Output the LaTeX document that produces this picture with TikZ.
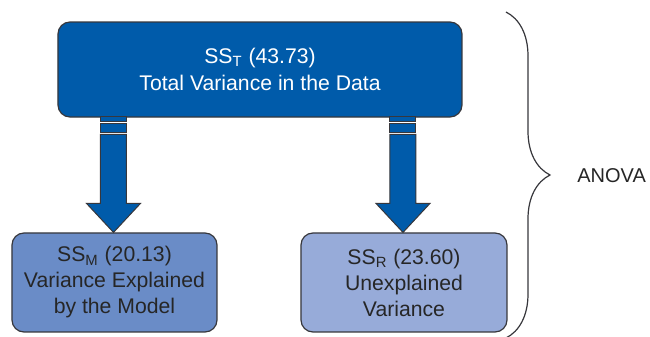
\documentclass[tikz,border=0pt]{standalone}
\usepackage{fontspec}
\setmainfont{Liberation Sans}
\usetikzlibrary{positioning,calc,decorations.pathreplacing}
\definecolor{deepblue}{RGB}{0,91,170}
\definecolor{midblue}{RGB}{106,140,199}
\definecolor{paleblue}{RGB}{151,171,217}
\definecolor{edgegray}{RGB}{55,55,60}
\tikzset{
  ssbox/.style={draw=edgegray,line width=0.6pt,rounded corners=6pt,align=center,
    font=\fontsize{10.6}{13}\selectfont,inner sep=0pt},
  arrowpart/.style={fill=deepblue,draw=edgegray,line width=0.5pt}
}

\begin{document}
\begin{tikzpicture}[x=0.5pt,y=-0.5pt]
        \useasboundingbox (0,0) rectangle (650,337);
        \node[ssbox,fill=deepblue,text=white,minimum width=202pt,minimum height=47.5pt,
          font=\fontsize{10.6}{13.5}\selectfont] (total) at (260,69.5)
          {SS\textsubscript{T} (43.73)\\Total Variance in the Data};
        \node[ssbox,fill=midblue,text=black!85,minimum width=102.5pt,minimum height=49.5pt] (model) at (114.5,282.5)
          {SS\textsubscript{M} (20.13)\\Variance Explained\\by the Model};
        \node[ssbox,fill=paleblue,text=black!85,minimum width=103pt,minimum height=49.5pt] (resid) at (404,282.5)
          {SS\textsubscript{R} (23.60)\\Unexplained\\Variance};
        % block arrows from the total down to each part
        \foreach \part in {model,resid} {
          \begin{scope}[shift={($(\part.north)+(-1,0)$)}]
            \draw[arrowpart] (-13,-116) rectangle (13,-111);
            \draw[arrowpart] (-13,-109) rectangle (13,-100);
            \draw[arrowpart,line join=miter] (-13,-98) -- (13,-98) -- (13,-29) -- (27,-29)
              -- (0,0) -- (-27,-29) -- (-13,-29) -- cycle;
          \end{scope}
        }
        \coordinate (bracetop) at (506,12);
        \coordinate (bracebot) at (506,338);
        \draw[edgegray,line width=0.6pt,decorate,decoration={brace,amplitude=22pt}] (bracetop) -- (bracebot);
        \node[anchor=west,inner sep=0pt,font=\fontsize{10}{12}\selectfont,text=black!85] (anova) at (577,176) {ANOVA};
      \end{tikzpicture}
\end{document}
